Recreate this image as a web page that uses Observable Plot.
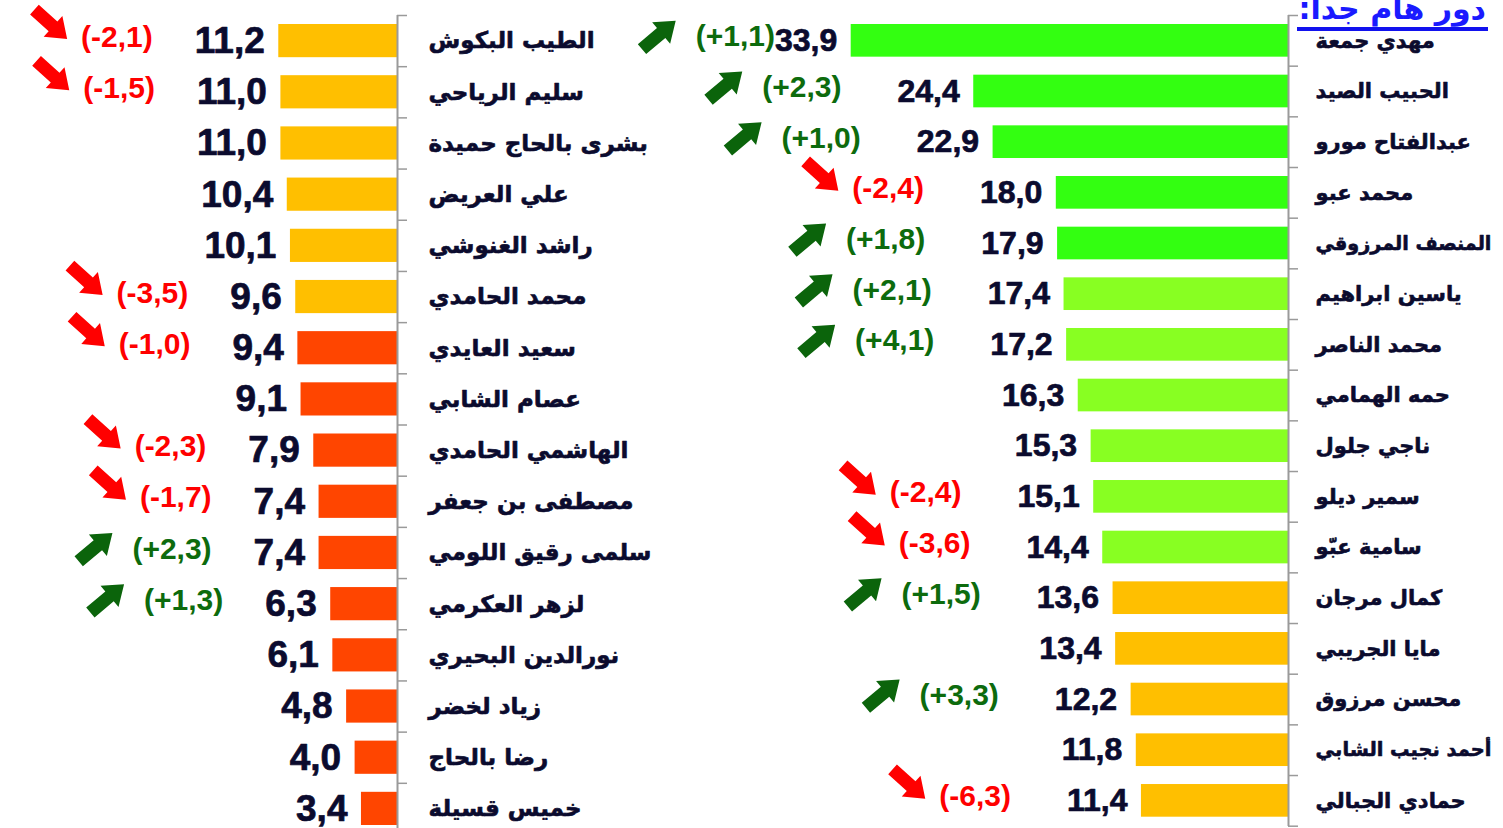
<!DOCTYPE html>
<html>
<head>
<meta charset="utf-8">
<script src="https://cdn.jsdelivr.net/npm/d3@7"></script>
<script src="https://cdn.jsdelivr.net/npm/@observablehq/plot@0.6"></script>
<style>
  html, body { margin: 0; padding: 0; background: #fff; }
  #wrap { position: relative; width: 1503px; height: 828px; overflow: hidden; background: #fff; }
  #left, #right { position: absolute; top: 0; }
  #left { left: 0; }
  #right { left: 660px; }
  #title { position: absolute; right: 15px; top: -9px; font: bold 30px 'DejaVu Sans', sans-serif;
           color: #1a1aff; direction: rtl; line-height: 36px; border-bottom: 4px solid #1212ee; white-space: nowrap;
           padding: 0 2px; }
</style>
</head>
<body>
<div id="wrap">
  <div id="left"></div>
  <div id="right"></div>
  <div id="title">دور هام جدا:</div>
</div>
<script>
// ---- data ----
const rightNames = ["مهدي جمعة","الحبيب الصيد","عبدالفتاح مورو","محمد عبو","المنصف المرزوقي","ياسين ابراهيم","محمد الناصر","حمه الهمامي","ناجي جلول","سمير ديلو","سامية عبّو","كمال مرجان","مايا الجريبي","محسن مرزوق","أحمد نجيب الشابي","حمادي الجبالي"];
const rightValues = [33.9,24.4,22.9,18.0,17.9,17.4,17.2,16.3,15.3,15.1,14.4,13.6,13.4,12.2,11.8,11.4];
const rightChanges = [1.1,2.3,1.0,-2.4,1.8,2.1,4.1,null,null,-2.4,-3.6,1.5,null,3.3,null,-6.3];

const leftNames = ["الطيب البكوش","سليم الرياحي","بشرى بالحاج حميدة","علي العريض","راشد الغنوشي","محمد الحامدي","سعيد العايدي","عصام الشابي","الهاشمي الحامدي","مصطفى بن جعفر","سلمى رقيق اللومي","لزهر العكرمي","نورالدين البحيري","زياد لخضر","رضا بالحاج","خميس قسيلة"];
const leftValues = [11.2,11.0,11.0,10.4,10.1,9.6,9.4,9.1,7.9,7.4,7.4,6.3,6.1,4.8,4.0,3.4];
const leftChanges = [-2.1,-1.5,null,null,null,-3.5,-1.0,null,-2.3,-1.7,2.3,1.3,null,null,null,null];

const tierBreaks = [9.5, 14, 17.5];
const tierColors = ["#ff4500", "#ffbf00", "#88ff22", "#33ff11"];

// ---- helpers ----
const fmt = v => v.toFixed(1).replace(".", ",");
const fmtChange = v => "(" + (v > 0 ? "+" : "-") + fmt(Math.abs(v)) + ")";
const NUM_FONT = "'Liberation Sans', Arial, sans-serif";
const NAME_FONT = "'DejaVu Sans', sans-serif";
const CHANGE_SIZE = 30;
const INK = "#0b0b2e";
const ctx = document.createElement("canvas").getContext("2d");
function textWidth(str, size, family = NUM_FONT) { ctx.font = `bold ${size}px ${family}`; return ctx.measureText(str).width; }

function arrowSymbol(angleDeg) {
  const t = angleDeg * Math.PI / 180, c = Math.cos(t), s = Math.sin(t);
  const L = 44, hl = 19, hw = 14, sw = 6.5;
  const pts = [[0,0],[-hl,-hw],[-hl,-sw],[-L,-sw],[-L,sw],[-hl,sw],[-hl,hw]];
  return {
    draw(context, size) {
      const k = Math.sqrt(size / Math.PI) / 10;
      pts.forEach(([u, v], i) => {
        const x = (u * c - v * s) * k, y = (u * s + v * c) * k;
        i ? context.lineTo(x, y) : context.moveTo(x, y);
      });
      context.closePath();
    }
  };
}
const upArrow = arrowSymbol(-40);
const downArrow = arrowSymbol(42);

function panel({names, values, changes, width, axisX, ppu, yRange, marginBottom, valueSize, changeGap, nameSize, nameDx, nameMax, minTail}) {
  const data = names.map((name, i) => ({name, value: values[i], change: changes[i]}));
  const n = data.length;
  const step = (yRange[1] - yRange[0]) / n;
  const valueGap = 14, arrowReach = 54;
  data.forEach(d => {
    d.vw = textWidth(fmt(d.value), valueSize);
    const nw = textWidth(d.name, nameSize, NAME_FONT);
    d.nameSize = nw > nameMax ? nameSize * nameMax / nw : nameSize;   // shrink only names that would not fit
    if (d.change != null) {
      d.lw = textWidth(fmtChange(d.change), CHANGE_SIZE);
      const bar = d.value * ppu, nearest = bar + valueGap + d.vw;
      const room = axisX - minTail - d.lw - arrowReach;
      d.chD = Math.max(nearest, Math.min(nearest + changeGap, room));
    }
  });
  const changed = data.filter(d => d.change != null);
  const up = changed.filter(d => d.change > 0), down = changed.filter(d => d.change < 0);
  const chX = d => d.chD / ppu;
  const tick = -10 / ppu;
  return Plot.plot({
    width, height: 828,
    marginTop: yRange[0], marginBottom, marginLeft: 0, marginRight: 0,
    style: {background: "transparent", overflow: "visible"},
    x: {domain: [0, 50], range: [axisX, axisX - 50 * ppu], axis: null},
    y: {type: "band", domain: names, range: yRange, padding: 0, round: false, axis: null},
    color: {type: "threshold", domain: tierBreaks, range: tierColors},
    marks: [
      Plot.barX(data, {x: "value", y: "name", fill: "value", insetTop: 9, insetBottom: 9}),
      Plot.ruleX([0], {stroke: "#9a9a9a", strokeWidth: 2}),
      Plot.ruleY(data, {y: "name", x1: 0, x2: tick, dy: step / 2, stroke: "#9a9a9a", strokeWidth: 1.5}),
      Plot.ruleY(data.slice(0, 1), {y: "name", x1: 0, x2: tick, dy: -step / 2, stroke: "#9a9a9a", strokeWidth: 1.5}),
      Plot.text(data, {x: 0, y: "name", text: "name", textAnchor: "start", dx: nameDx,
        fontSize: d => d.nameSize, fontWeight: "bold", fontFamily: NAME_FONT, fill: INK, stroke: INK, strokeWidth: 0.6}),
      Plot.text(data, {x: "value", y: "name", text: d => fmt(d.value), textAnchor: "end", dx: -valueGap,
        fontSize: valueSize, fontWeight: "bold", fontFamily: NUM_FONT, fill: INK, stroke: INK, strokeWidth: 0.7}),
      Plot.text(changed, {x: chX, y: "name", text: d => fmtChange(d.change), textAnchor: "end", dy: -4,
        fontSize: CHANGE_SIZE, fontWeight: "bold", fontFamily: NUM_FONT,
        fill: d => d.change > 0 ? "#0d6b0d" : "#ff0000"}),
      Plot.dot(up, {x: d => chX(d) + (d.lw + 20) / ppu, y: "name", dy: -20, r: 10,
        symbol: upArrow, fill: "#0b640b", stroke: "none"}),
      Plot.dot(down, {x: d => chX(d) + (d.lw + 14) / ppu, y: "name", dy: -2, r: 10,
        symbol: downArrow, fill: "#ff0000", stroke: "none"})
    ]
  });
}

document.getElementById("left").append(panel({
  names: leftNames, values: leftValues, changes: leftChanges,
  width: 660, axisX: 397, ppu: 10.6, yRange: [15, 834], marginBottom: 0, valueSize: 37, changeGap: 42,
  nameSize: 23, nameDx: 31, nameMax: 232, minTail: 5
}));
document.getElementById("right").append(panel({
  names: rightNames, values: rightValues, changes: rightChanges,
  width: 843, axisX: 628, ppu: 12.9, yRange: [15, 825.7], marginBottom: 2, valueSize: 32, changeGap: 56,
  nameSize: 21, nameDx: 27, nameMax: 176, minTail: 0
}));
</script>
</body>
</html>
